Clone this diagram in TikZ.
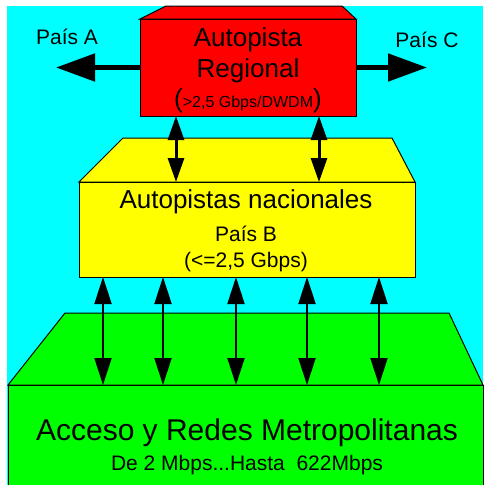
\documentclass[tikz,border=0pt]{standalone}
\usepackage{fontspec}
\setmainfont{Liberation Sans}
\usetikzlibrary{arrows.meta}
\definecolor{bgcyan}{HTML}{00FFFF}
\definecolor{boxred}{HTML}{FF0000}
\definecolor{boxyellow}{HTML}{FFFF00}
\definecolor{boxgreen}{HTML}{00FF00}
\begin{document}
\begin{tikzpicture}[x=1pt,y=-1pt,
  face/.style={draw=black,line width=1pt,line join=miter},
  frontbox/.style={face,rectangle,inner sep=0pt,outer sep=0pt,anchor=north west},
  lbl/.style={inner sep=0pt,anchor=base,font=\fontsize{21}{21}\selectfont},
  big/.style={inner sep=0pt,anchor=base,font=\fontsize{26}{26}\selectfont},
  wide/.style={line width=5pt,-{Triangle[length=39pt,width=27pt]}},
  midlink/.style={line width=3pt,{Triangle[length=24pt,width=16pt]}-{Triangle[length=24pt,width=16pt]}},
  lowlink/.style={line width=2pt,{Triangle[length=27pt,width=17pt]}-{Triangle[length=27pt,width=17pt]}}]
\useasboundingbox (0,0) rectangle (483,485);
\fill[bgcyan] (7,6) rectangle (483,485);
% green block
\fill[boxgreen,face] (8,385) -- (65,313) -- (449,313) -- (483,385) -- cycle;
\node[frontbox,fill=boxgreen,minimum width=475pt,minimum height=102pt] (green) at (8,385) {};
% yellow block
\fill[boxyellow,face] (79,182) -- (123,138) -- (392,138) -- (415,182) -- cycle;
\node[frontbox,fill=boxyellow,minimum width=336pt,minimum height=95pt] (yellow) at (79,182) {};
% red block
\fill[boxred,face] (140,19) -- (166,6) -- (342,6) -- (356,19) -- cycle;
\node[frontbox,fill=boxred,minimum width=216pt,minimum height=97pt] (red) at (140,19) {};
% free ends
\coordinate (tipA) at (56,67.5);
\coordinate (tipC) at (427,67.5);
\draw[wide] (red.west) -- (tipA);
\draw[wide] (red.east) -- (tipC);
% red-yellow links
\coordinate (m1) at (176,0);
\coordinate (m2) at (319,0);
\draw[midlink] (red.south -| m1) -- (yellow.north -| m1);
\draw[midlink] (red.south -| m2) -- (yellow.north -| m2);
% yellow-green links
\foreach \i/\x in {1/103,2/163,3/236,4/307,5/379}{
  \coordinate (l\i) at (\x,0);
  \draw[lowlink] (yellow.south -| l\i) -- (green.north -| l\i);
}
% texts
\node[lbl] (paisA) at (67,44) {País A};
\node[lbl] (paisC) at (427,47) {País C};
\node[big] (t1) at (248,46) {Autopista};
\node[big] (t2) at (248,77) {Regional};
\node[inner sep=0pt,anchor=base] (t3) at (248,107) {{\fontsize{26}{26}\selectfont(}{\fontsize{16}{16}\selectfont>2,5 Gbps/DWDM}{\fontsize{26}{26}\selectfont)}};
\node[big] (y1) at (246,208) {Autopistas nacionales};
\node[lbl] (y2) at (246,241) {País B};
\node[lbl] (y3) at (246,267) {(<=2,5 Gbps)};
\node[inner sep=0pt,anchor=base,font=\fontsize{30}{30}\selectfont] (g1) at (247,440) {Acceso y Redes Metropolitanas};
\node[lbl] (g2) at (247,470) {De 2 Mbps...Hasta\ \ 622Mbps};
\end{tikzpicture}
\end{document}
